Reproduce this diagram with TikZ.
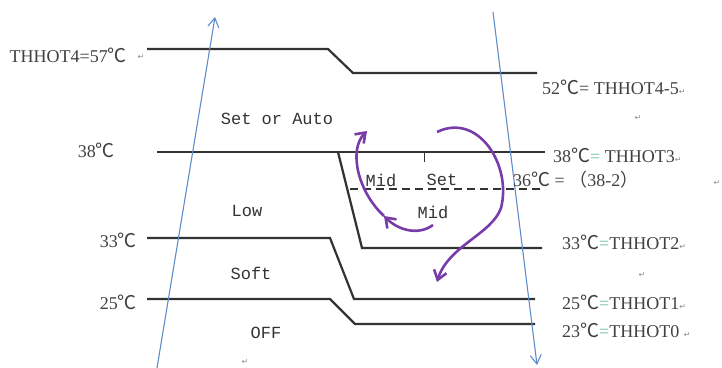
\documentclass[tikz,border=0pt]{standalone}
\usepackage{fontspec}
\setmainfont{Liberation Serif}
\setmonofont{Liberation Mono}
\newfontfamily\cjk{Noto Sans CJK SC}
\newfontfamily\symb{DejaVu Sans}
\usetikzlibrary{arrows.meta}
\definecolor{axisblue}{RGB}{95,140,200}
\definecolor{loopviolet}{RGB}{120,60,170}
\definecolor{eqteal}{RGB}{110,190,170}
\newcommand{\degc}{{\cjk\fontsize{19}{20}\selectfont ℃}}
\newcommand{\ret}{{\symb\fontsize{8}{8}\selectfont\color{black!45}↵}}
\newcommand{\teq}{{\color{eqteal}=}}

\begin{document}
\begin{tikzpicture}[
    x=1pt, y=-1pt,
    level/.style={line width=2.2pt, draw=black!80},
    axis/.style={draw=axisblue, line width=1.1pt, -{Straight Barb[length=9pt,width=11pt]}},
    loop/.style={draw=loopviolet, line width=2.6pt, -{Straight Barb[length=9pt,width=13pt]}},
    temp/.style={font=\fontsize{18}{20}\selectfont, text=black!75, inner sep=0pt},
    mode/.style={font=\ttfamily\fontsize{17}{19}\selectfont, text=black!80, inner sep=0pt},
    retmark/.style={inner sep=0pt}
]
\useasboundingbox (0,0) rectangle (722,367);

% threshold lines
\draw[level] (147,49) -- (328,49) -- (353,73) -- (537,73);
\draw[level] (157,152) -- (545,152);
\draw[level] (338,152) -- (362,248) -- (542,248);
\draw[level, line width=1.6pt, dash pattern=on 8pt off 5pt] (350,189) -- (545,189);
\draw[line width=1pt, black!80] (424,152) -- (424,162);
\draw[level] (147,238) -- (330,238) -- (354,299) -- (535,299);
\draw[level] (147,299) -- (330,299) -- (355,324) -- (535,324);

% rising and falling temperature
\coordinate (risefrom) at (157,368);
\coordinate (riseto) at (215,17);
\coordinate (fallfrom) at (493,12);
\coordinate (fallto) at (537,365);
\draw[axis] (risefrom) -- (riseto);
\draw[axis] (fallfrom) -- (fallto);

% left labels
\node[temp, anchor=east] (t57) at (127,55) {THHOT4=57\degc};
\node[retmark] (m57) at (141,57) {\ret};
\node[temp, anchor=east] (t38) at (115,150) {38\degc};
\node[temp, anchor=east] (t33) at (137,240) {33\degc};
\node[temp, anchor=east] (t25) at (137,302) {25\degc};

% right labels
\node[temp, anchor=west] (r52) at (542,87) {52\degc= THHOT4-5\ret};
\node[retmark] (m52) at (638,118) {\ret};
\node[temp, anchor=west] (r38) at (553,155) {38\degc\teq{} THHOT3\ret};
\node[temp, anchor=west] (r36) at (513,180) {36\degc{} = {\cjk （}38-2{\cjk ）}};
\node[retmark] (m36) at (717,183) {\ret};
\node[temp, anchor=west] (r33) at (562,242) {33\degc\teq THHOT2\ret};
\node[retmark] (m33) at (642,275) {\ret};
\node[temp, anchor=west] (r25) at (562,302) {25\degc\teq THHOT1\ret};
\node[temp, anchor=west] (r23) at (562,330) {23\degc\teq THHOT0 \ret};

% fan modes
\node[mode] (auto) at (277,119) {Set or Auto};
\node[mode] (low) at (247,211) {Low};
\node[mode] (soft) at (251,273) {Soft};
\node[mode] (off) at (266,333) {OFF};
\node[mode] (midup) at (381,180) {Mid};
\node[mode] (set) at (442,180) {Set};
\node[mode] (midlow) at (433,212) {Mid};
\node[retmark] (moff) at (245,362) {\ret};

% hysteresis loops
\coordinate (upfrom) at (433,225);
\coordinate (upmid) at (384,216);
\coordinate (upto) at (367,131);
\coordinate (downfrom) at (437,132);
\coordinate (downmid) at (501,208);
\coordinate (downto) at (437,282);
\draw[loop] (upfrom) .. controls (418,236) and (398,230) .. (upmid);
\draw[loop] (upmid) .. controls (358,192) and (348,150) .. (upto);
\draw[loop] (downfrom) .. controls (478,112) and (512,165) .. (downmid)
    .. controls (492,234) and (448,246) .. (downto);

\end{tikzpicture}
\end{document}
